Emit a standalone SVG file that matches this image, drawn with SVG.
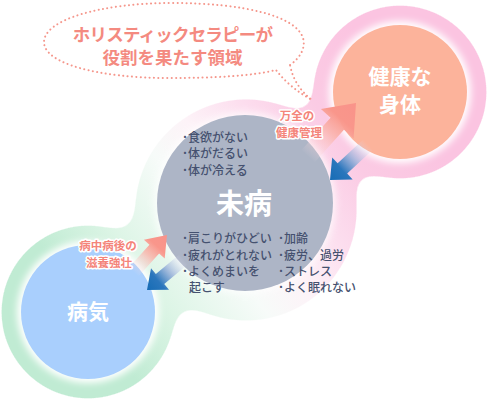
<svg xmlns="http://www.w3.org/2000/svg" width="488" height="400" viewBox="0 0 488 400">
<defs>
<style>
.jp{font-family:"Noto Sans CJK JP","Noto Sans CJK SC",sans-serif;}
.title{font-weight:700;fill:#fff;text-anchor:middle;}
.bubble{font-weight:700;fill:#F48A80;font-size:17.5px;text-anchor:middle;}
.bul{fill:#45516F;font-size:12px;font-weight:500;}
.lbl{font-weight:700;fill:#F4847A;font-size:11.5px;text-anchor:middle;stroke:#fff;stroke-width:3;stroke-linejoin:round;paint-order:stroke;}
.dots{fill:none;stroke:#F5978C;stroke-width:2;stroke-dasharray:0.1 4.3;stroke-linecap:round;}
.glow{fill:#fff;filter:url(#blur);}
</style>
<filter id="goo" filterUnits="userSpaceOnUse" x="-100" y="-100" width="700" height="600">
<feGaussianBlur in="SourceGraphic" stdDeviation="14"/>
<feColorMatrix values="1 0 0 0 0  0 1 0 0 0  0 0 1 0 0  0 0 0 30 -15"/>
</filter>
<filter id="blur" x="-20%" y="-20%" width="140%" height="140%"><feGaussianBlur stdDeviation="3.5"/></filter>
<mask id="blobMask" maskUnits="userSpaceOnUse" x="0" y="0" width="488" height="400">
<g filter="url(#goo)" fill="#fff">
<circle cx="400" cy="92" r="88"/>
<circle cx="246" cy="210" r="112"/>
<circle cx="88" cy="312" r="88"/>
</g>
</mask>
<linearGradient id="blobGrad" gradientUnits="userSpaceOnUse" x1="88" y1="312" x2="400" y2="92">
<stop offset="0" stop-color="#C0EBD3"/>
<stop offset="0.18" stop-color="#DDF5E6"/>
<stop offset="0.38" stop-color="#F7FBF9"/>
<stop offset="0.5" stop-color="#FDF3F8"/>
<stop offset="0.65" stop-color="#FCDDEE"/>
<stop offset="0.8" stop-color="#FBCBE4"/>
<stop offset="1" stop-color="#FBC4E1"/>
</linearGradient>
<linearGradient id="pinkArrow" x1="0" y1="0" x2="1" y2="0">
<stop offset="0" stop-color="#FCE4EC" stop-opacity="0"/>
<stop offset="0.45" stop-color="#FAB3AA" stop-opacity="0.8"/>
<stop offset="0.7" stop-color="#F9968B"/>
<stop offset="1" stop-color="#F9938A"/>
</linearGradient>
<linearGradient id="blueArrow" x1="0" y1="0" x2="1" y2="0">
<stop offset="0" stop-color="#E4E0F4" stop-opacity="0"/>
<stop offset="0.4" stop-color="#9AB2DA" stop-opacity="0.85"/>
<stop offset="0.7" stop-color="#2A76BC"/>
<stop offset="1" stop-color="#166CB5"/>
</linearGradient>
</defs>

<rect width="488" height="400" fill="#fff"/>
<rect width="488" height="400" fill="url(#blobGrad)" mask="url(#blobMask)"/>

<g id="bubble">
<path class="dots" d="M290,65 C300,58 306,48 303,38 C296,16 244,3 172,3 C100,3 44,20 44,42 C44,64 100,78 168,78 C215,78 252,76 276,70 Q290,88 312,100 Q294,86 290,65 Z"/>
<text class="jp bubble" x="172.5" y="41" letter-spacing="-0.8">ホリスティックセラピーが</text>
<text class="jp bubble" x="172.5" y="64">役割を果たす領域</text>
</g>

<g id="kenko">
<circle class="glow" cx="400" cy="92" r="71"/>
<circle cx="400" cy="92" r="67" fill="#FCB39B"/>
<text class="jp title" x="400" y="84" font-size="21">健康な</text>
<text class="jp title" x="400" y="112" font-size="21">身体</text>
</g>

<g id="mibyo">
<circle class="glow" cx="245" cy="203" r="91" opacity="0.7"/>
<circle cx="245" cy="203" r="88" fill="#ADB5C6"/>
<text class="jp title" x="244" y="214" font-size="28">未病</text>
<text class="jp bul" x="182" y="142">･食欲がない</text>
<text class="jp bul" x="182" y="158">･体がだるい</text>
<text class="jp bul" x="182" y="175">･体が冷える</text>
<text class="jp bul" x="182" y="243">･肩こりがひどい</text>
<text class="jp bul" x="182" y="260">･疲れがとれない</text>
<text class="jp bul" x="182" y="276">･よくめまいを</text>
<text class="jp bul" x="189" y="292">起こす</text>
<text class="jp bul" x="278" y="243">･加齢</text>
<text class="jp bul" x="278" y="260">･疲労、過労</text>
<text class="jp bul" x="278" y="276">･ストレス</text>
<text class="jp bul" x="278" y="292">･よく眠れない</text>
</g>

<g id="byoki">
<circle class="glow" cx="88" cy="312" r="71"/>
<circle cx="88" cy="312" r="67" fill="#A9CFFD"/>
<text class="jp title" x="88" y="319" font-size="21">病気</text>
</g>

<g id="connectors">
<path transform="translate(356,103) rotate(-48)" fill="url(#pinkArrow)" d="M0,0 L-28,-22 L-28,-9 L-72,-9 L-72,9 L-28,9 L-28,22 Z"/>
<path transform="translate(330,180) rotate(137)" fill="url(#blueArrow)" d="M0,0 L-17,-15 L-17,-7 L-52,-7 L-52,7 L-17,7 L-17,15 Z"/>
<path transform="translate(167,235) rotate(-48)" fill="url(#pinkArrow)" d="M0,0 L-19,-14 L-19,-6.5 L-50,-6.5 L-50,6.5 L-19,6.5 L-19,14 Z"/>
<path transform="translate(147,290) rotate(140)" fill="url(#blueArrow)" d="M0,0 L-17,-14 L-17,-6.5 L-48,-6.5 L-48,6.5 L-17,6.5 L-17,14 Z"/>
<text class="jp lbl" x="297" y="120">万全の</text>
<text class="jp lbl" x="299" y="137">健康管理</text>
<text class="jp lbl" x="108" y="250">病中病後の</text>
<text class="jp lbl" x="109" y="267">滋養強壮</text>
</g>
</svg>
